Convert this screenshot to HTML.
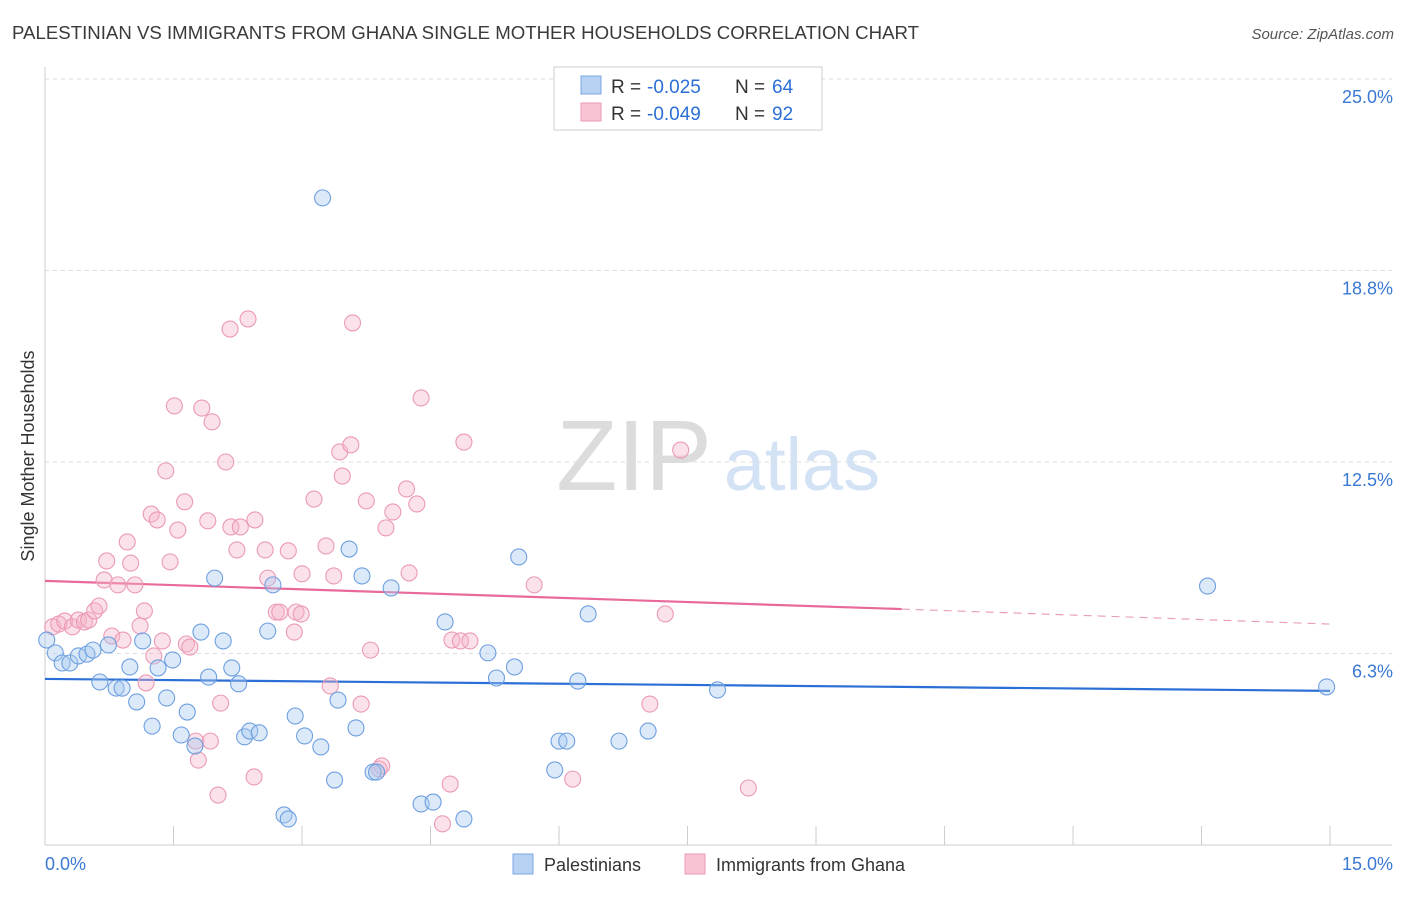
<!DOCTYPE html>
<html><head><meta charset="utf-8">
<style>
body{margin:0;background:#fff;font-family:"Liberation Sans",sans-serif;}
svg text{font-family:"Liberation Sans",sans-serif;}
</style></head>
<body>
<svg id="chart" width="1406" height="892" viewBox="0 0 1406 892" xmlns="http://www.w3.org/2000/svg">
<text x="12" y="39" font-size="18" fill="#3a3a3a" textLength="907" lengthAdjust="spacingAndGlyphs">PALESTINIAN VS IMMIGRANTS FROM GHANA SINGLE MOTHER HOUSEHOLDS CORRELATION CHART</text>
<text x="1394" y="39" font-size="15" fill="#555" text-anchor="end" font-style="italic">Source: ZipAtlas.com</text>
<g>
<text x="634" y="490" font-size="100" fill="#dcdcdc" font-family="Liberation Serif" text-anchor="middle">ZIP</text>
<text x="802" y="490" font-size="74" fill="#d3e2f4" text-anchor="middle">atlas</text>
</g>
<g id="grid"></g>
<g id="axes"></g>
<g id="trends"></g>
<g id="points"></g>
<text transform="translate(34,456) rotate(-90)" font-size="18" fill="#333" text-anchor="middle">Single Mother Households</text>
<g>
<rect x="554" y="67" width="268" height="63" fill="#fff" stroke="#ccc"/>
<rect x="581" y="76" width="20" height="18" fill="#b7d1f2" stroke="#7aa6e0"/>
<rect x="581" y="103" width="20" height="18" fill="#f8c4d3" stroke="#eb9bb3"/>
<text x="611" y="93" font-size="19" fill="#333">R =</text>
<text x="647" y="93" font-size="19" fill="#2b6fd6">-0.025</text>
<text x="735" y="93" font-size="19" fill="#333">N =</text>
<text x="772" y="93" font-size="19" fill="#2b6fd6">64</text>
<text x="611" y="120" font-size="19" fill="#333">R =</text>
<text x="647" y="120" font-size="19" fill="#2b6fd6">-0.049</text>
<text x="735" y="120" font-size="19" fill="#333">N =</text>
<text x="772" y="120" font-size="19" fill="#2b6fd6">92</text>
</g>
<g>
<rect x="513" y="854" width="20" height="20" fill="#b7d1f2" stroke="#7aa6e0"/>
<text x="544" y="871" font-size="18" fill="#333">Palestinians</text>
<rect x="685" y="854" width="20" height="20" fill="#f8c4d3" stroke="#eb9bb3"/>
<text x="716" y="871" font-size="18" fill="#333">Immigrants from Ghana</text>
</g>
</svg>
<script>
const yTicks=[6.25,12.5,18.75,25.0];
const yTickLabels=["6.3%","12.5%","18.8%","25.0%"];
const xTickVals=[0,1.5,3,4.5,6,7.5,9,10.5,12,13.5,15];
const xEndLabels=["0.0%","15.0%"];
const blueX=[3.24,0.02,0.12,0.20,0.29,0.39,0.49,0.56,0.64,0.74,0.83,0.90,0.99,1.07,1.14,1.25,1.32,1.42,1.49,1.59,1.66,1.75,1.82,1.91,1.98,2.08,2.18,2.26,2.33,2.39,2.50,2.60,2.66,2.79,2.84,2.92,3.03,3.22,3.38,3.42,3.55,3.63,3.70,3.83,3.87,4.04,4.39,4.53,4.67,4.89,5.17,5.27,5.48,5.53,5.95,6.00,6.09,6.22,6.34,6.70,7.04,7.85,13.57,14.96];
const blueY=[21.12,6.69,6.27,5.94,5.94,6.17,6.23,6.36,5.32,6.53,5.12,5.12,5.81,4.67,6.66,3.88,5.78,4.80,6.04,3.59,4.34,3.23,6.95,5.48,8.71,6.66,5.78,5.26,3.53,3.72,3.66,6.98,8.49,0.98,0.85,4.21,3.56,3.20,2.12,4.73,9.66,3.82,8.78,2.38,2.38,8.39,1.34,1.40,7.28,0.85,6.27,5.45,5.81,9.40,2.45,3.39,3.39,5.35,7.54,3.39,3.72,5.06,8.45,5.16];
const pinkX=[0.09,0.16,0.23,0.32,0.39,0.46,0.51,0.58,0.63,0.69,0.72,0.78,0.85,0.91,0.96,1.00,1.05,1.11,1.16,1.18,1.24,1.27,1.31,1.37,1.41,1.46,1.51,1.55,1.63,1.65,1.69,1.76,1.79,1.83,1.90,1.93,1.95,2.02,2.05,2.11,2.16,2.17,2.24,2.28,2.37,2.44,2.45,2.57,2.60,2.70,2.74,2.84,2.91,2.93,2.99,3.00,3.14,3.28,3.33,3.37,3.44,3.47,3.57,3.59,3.69,3.75,3.80,3.90,3.93,3.98,4.06,4.22,4.25,4.34,4.39,4.64,4.73,4.75,4.85,4.89,4.96,5.71,6.16,7.06,7.24,7.42,8.21];
const pinkY=[7.12,7.21,7.31,7.12,7.34,7.28,7.34,7.64,7.80,8.65,9.27,6.82,8.49,6.69,9.89,9.20,8.49,7.15,7.64,5.29,10.80,6.17,10.61,6.66,12.21,9.24,14.33,10.28,11.20,6.56,6.46,3.39,2.77,14.26,10.58,3.39,13.81,1.63,4.63,12.50,16.84,10.38,9.63,10.38,17.17,2.22,10.61,9.63,8.71,7.60,7.60,9.60,6.95,7.60,7.54,8.85,11.29,9.76,5.19,8.78,12.83,12.04,13.06,17.04,4.60,11.23,6.36,2.48,2.58,10.35,10.87,11.62,8.88,11.13,14.59,0.69,1.99,6.69,6.66,13.15,6.66,8.49,2.15,4.60,7.54,12.89,1.86];
const blueTrend=[[0,5.42],[15,5.03]];
const pinkTrend=[[0,8.62],[10,7.70]];
const pinkTrendDash=[[10,7.70],[15,7.21]];

const NS="http://www.w3.org/2000/svg";
const X=v=>45+v*85.67;
const Y=v=>845-v*30.64;
function mk(tag,attrs,parent){const e=document.createElementNS(NS,tag);for(const k in attrs)e.setAttribute(k,attrs[k]);parent.appendChild(e);return e;}
const grid=document.getElementById('grid'),axes=document.getElementById('axes'),trends=document.getElementById('trends'),pts=document.getElementById('points');
yTicks.forEach((t,i)=>{
  const l=mk('line',{x1:45,x2:1392,y1:Y(t),y2:Y(t),stroke:'#ddd','stroke-dasharray':'4,4'},grid);
  
  
  const tx=mk('text',{x:1393,y:Y(t)+24,'font-size':18,fill:'#3a78d4','text-anchor':'end'},axes);
  tx.textContent=yTickLabels[i];
  
  
});
const yax=mk('line',{x1:45,x2:45,y1:67,y2:845,stroke:'#ccc'},axes);


const xax=mk('line',{x1:45,x2:1392,y1:845,y2:845,stroke:'#ccc'},axes);


xTickVals.forEach(v=>{
  const t=mk('line',{x1:X(v),x2:X(v),y1:826,y2:845,stroke:'#ccc'},axes);
  
  
});
const xl0=mk('text',{x:45,y:870,'font-size':18,fill:'#3a78d4'},axes);xl0.textContent=xEndLabels[0];


const xl1=mk('text',{x:1393,y:870,'font-size':18,fill:'#3a78d4','text-anchor':'end'},axes);xl1.textContent=xEndLabels[1];


function drawPts(xs,ys,fill,stroke,name){xs.forEach((x,i)=>{
  const c=mk('circle',{cx:X(x),cy:Y(ys[i]),r:8,fill:fill,'fill-opacity':0.4,stroke:stroke,'stroke-width':1.1},pts);
  
  
});}
drawPts(pinkX,pinkY,'#f6b3c8','#eb9ab4','ghana-point');
drawPts(blueX,blueY,'#a8c9f0','#6d9fe0','palestinian-point');
function line(p,color,dash,name){
  const l=mk('line',{x1:X(p[0][0]),y1:Y(p[0][1]),x2:X(p[1][0]),y2:Y(p[1][1]),stroke:color,'stroke-width':dash?1.2:2.2},trends);
  if(dash)l.setAttribute('stroke-dasharray','8,6');
  
  
}
line(blueTrend,'#2b6fd6',false,'palestinian-trend');
line(pinkTrend,'#e8699a',false,'ghana-trend');
line(pinkTrendDash,'#e8a0ba',true,'ghana-trend-extrapolated');
</script>
</body></html>
